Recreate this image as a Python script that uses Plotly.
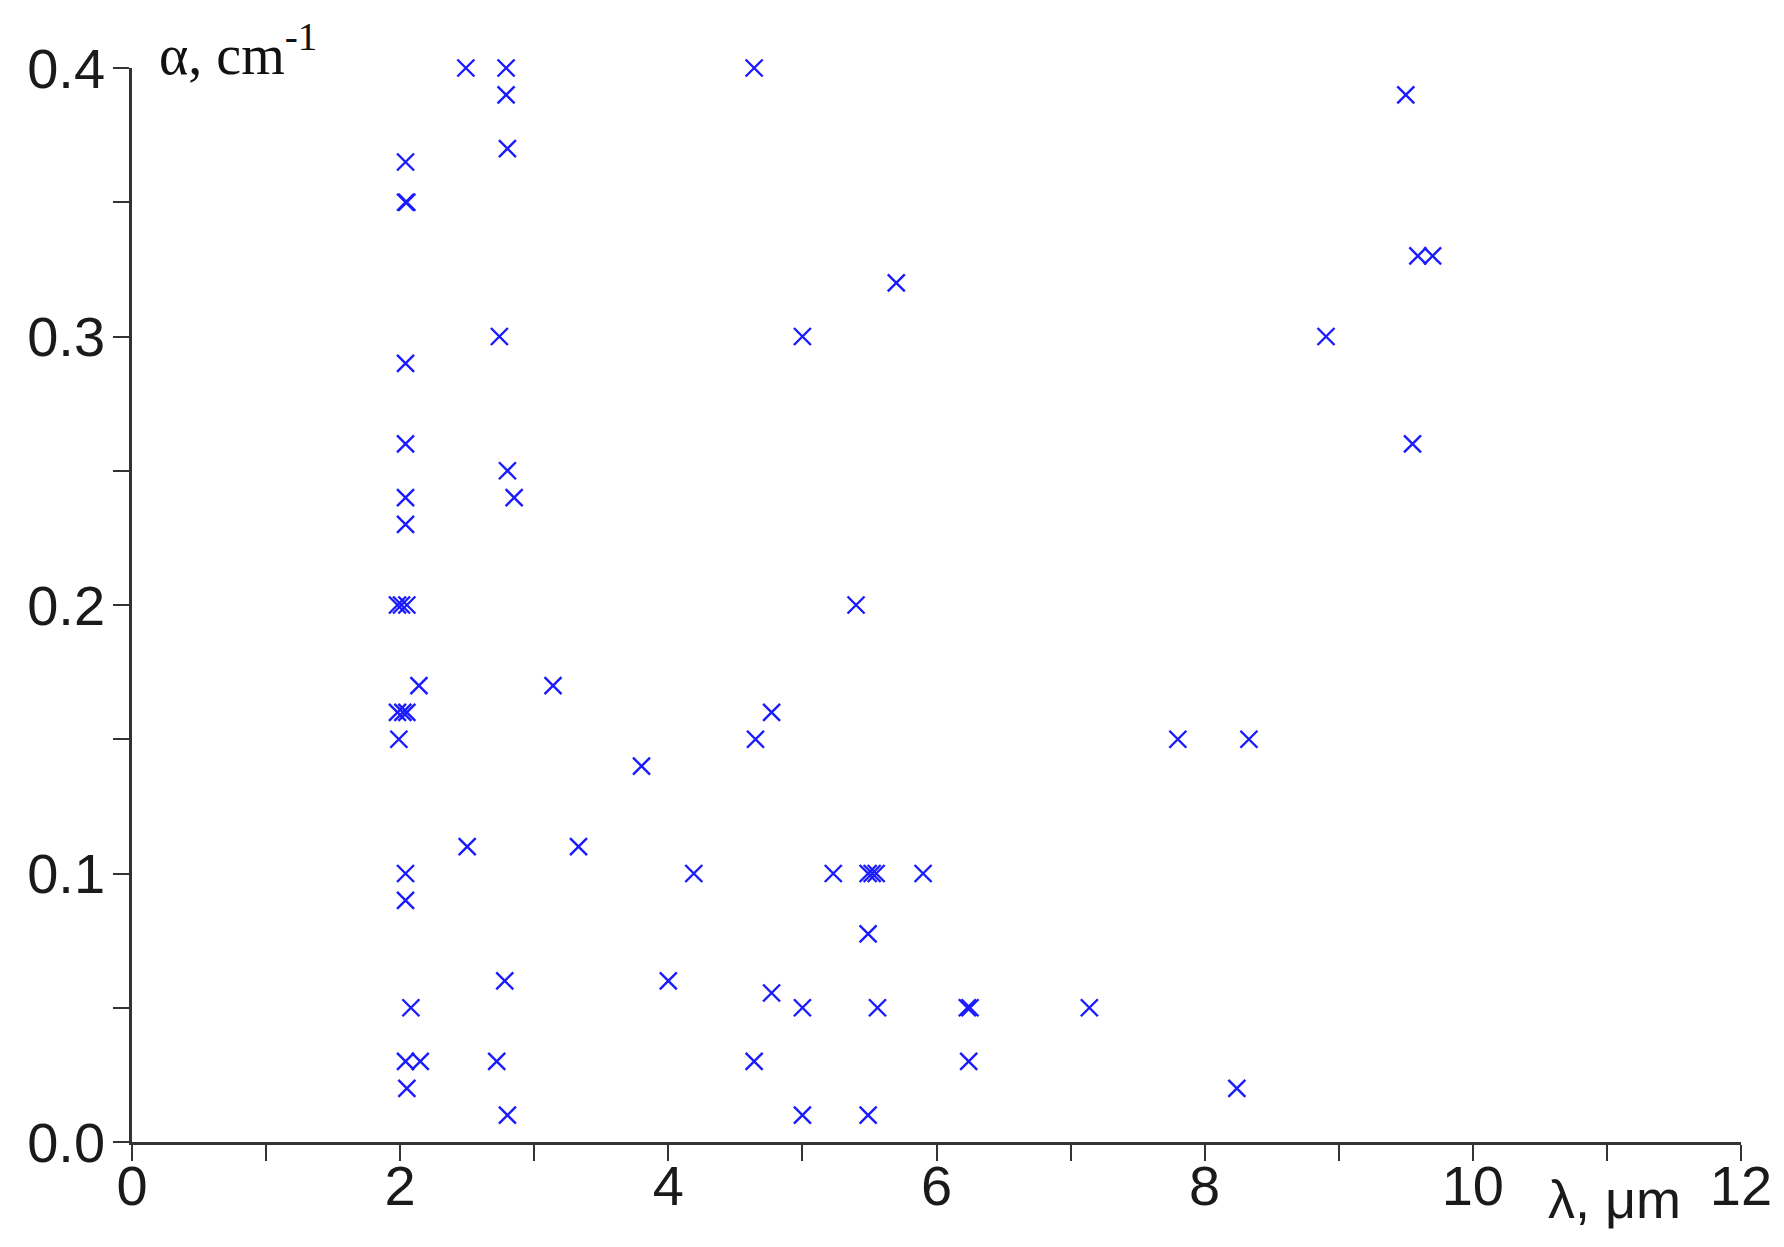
import plotly.graph_objects as go

# wavelength (um) and absorption coefficient (cm^-1)
wavelength = [
    1.99, 1.98, 2.02, 2.05, 1.98, 2.01, 2.05, 2.04, 2.04, 2.05, 2.04, 2.04, 2.04, 2.04,
    2.14, 2.04, 2.04, 2.08, 2.04, 2.15, 2.05,
    2.49, 2.50,
    2.79, 2.79, 2.80, 2.74, 2.80, 2.85, 2.78, 2.72, 2.80,
    3.14, 3.33, 3.80, 4.00, 4.19,
    4.64, 4.65, 4.77, 4.77, 4.64,
    5.00, 5.00, 5.00, 5.23, 5.40, 5.49, 5.52, 5.55, 5.49, 5.56, 5.49, 5.70, 5.90,
    6.23, 6.25, 6.24, 7.14, 7.80, 8.33, 8.24, 8.905,
    9.50, 9.55, 9.59, 9.70,
]
alpha = [
    0.150, 0.160, 0.160, 0.160, 0.200, 0.200, 0.200, 0.365, 0.350, 0.350, 0.290, 0.260, 0.240, 0.230,
    0.170, 0.100, 0.090, 0.050, 0.030, 0.030, 0.020,
    0.400, 0.110,
    0.400, 0.390, 0.370, 0.300, 0.250, 0.240, 0.060, 0.030, 0.010,
    0.170, 0.110, 0.140, 0.060, 0.100,
    0.400, 0.150, 0.160, 0.0555, 0.030,
    0.300, 0.050, 0.010, 0.100, 0.200, 0.100, 0.100, 0.100, 0.0775, 0.050, 0.010, 0.320, 0.100,
    0.050, 0.050, 0.030, 0.050, 0.150, 0.150, 0.020, 0.300,
    0.390, 0.260, 0.330, 0.330,
]

x_ticks = [0, 2, 4, 6, 8, 10, 12]
y_ticks = [0.0, 0.1, 0.2, 0.3, 0.4]

# page body has an 8px margin; size the figure so the plot area lands where the reference has it
OFF = 8
W, H = 1784 - 2 * OFF, 1247 - 2 * OFF
L, T = 132 - OFF, 68 - OFF
pw, ph = 1609, 1074
R, B = W - L - pw, H - T - ph

fig = go.Figure()
fig.add_trace(go.Scatter(
    x=wavelength, y=alpha, mode="markers", cliponaxis=False,
    marker=dict(symbol="x-thin", size=17, line=dict(color="#1a1aff", width=2.4)),
    showlegend=False,
))

axis_common = dict(
    showline=True, linecolor="#333333", linewidth=2.5, ticks="outside",
    ticklen=16, tickwidth=2, tickcolor="#333333", showgrid=False, zeroline=False,
    automargin=False,
    tickfont=dict(family="Liberation Sans", size=56, color="#1a1a1a"),
)

fig.update_xaxes(range=[0, 12], tickvals=x_ticks, ticktext=[str(v) for v in x_ticks],
                 minor=dict(ticks="outside", dtick=1, tick0=0, ticklen=16, tickwidth=2, tickcolor="#333333"),
                 ticklabelstandoff=-23, **axis_common)
fig.update_yaxes(range=[0, 0.4], tickvals=y_ticks, ticktext=[f"{v:.1f}" for v in y_ticks],
                 minor=dict(ticks="outside", dtick=0.05, tick0=0, ticklen=16, tickwidth=2, tickcolor="#333333"),
                 ticklabelstandoff=-3, **axis_common)

fig.add_annotation(
    text="α, cm<sup>-1</sup>", xref="paper", yref="paper",
    x=(157 - 132) / pw, y=(1142 - 50) / ph, xanchor="left", yanchor="middle",
    showarrow=False, font=dict(family="Liberation Serif", size=56, color="#111111"),
)
fig.add_annotation(
    text="λ, μm", xref="paper", yref="paper",
    x=(1614 - 132) / pw, y=(1142 - 1199) / ph, xanchor="center", yanchor="middle",
    showarrow=False, font=dict(family="Liberation Sans", size=54, color="#1a1a1a"),
)

fig.update_layout(
    width=W, height=H, margin=dict(l=L, r=R, t=T, b=B, autoexpand=False),
    plot_bgcolor="white", paper_bgcolor="white",
)

fig.write_html("out.html")
